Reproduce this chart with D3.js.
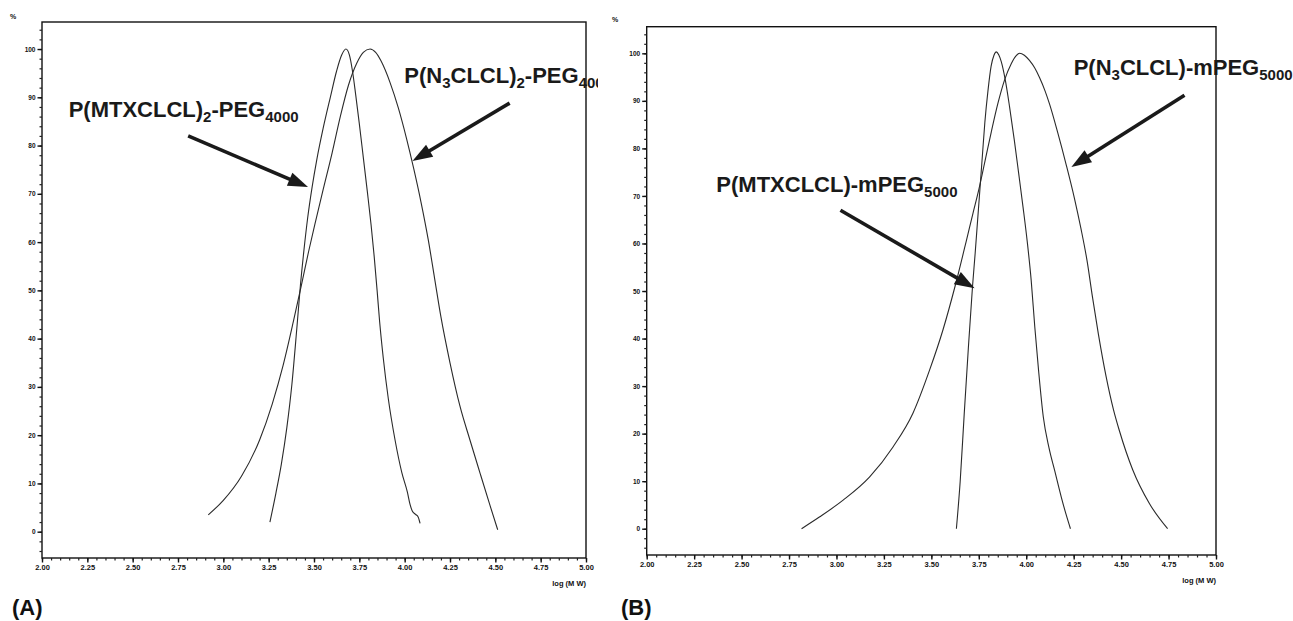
<!DOCTYPE html>
<html><head><meta charset="utf-8">
<script src="https://cdn.jsdelivr.net/npm/d3@7"></script>
<style>
body{margin:0;background:#fff}
svg{display:block}
text{font-family:"Liberation Sans",Arial,Helvetica,sans-serif}
</style>
</head><body>
<svg id="chart" width="1293" height="621"></svg>
<script>
// ---------- data ----------
const xTickValues = [2.00, 2.25, 2.50, 2.75, 3.00, 3.25, 3.50, 3.75, 4.00, 4.25, 4.50, 4.75, 5.00];
const yTickValues = [0, 10, 20, 30, 40, 50, 60, 70, 80, 90, 100];
const xTickLabels = ["2.00","2.25","2.50","2.75","3.00","3.25","3.50","3.75","4.00","4.25","4.50","4.75","5.00"];
const xAxisTitle = "log (M W)";
const yAxisTitle = "%";

// Panel A: P(MTXCLCL)2-PEG4000 (narrow) and P(N3CLCL)2-PEG4000 (wide)
const mtxA = [[3.257,2],[3.29,8],[3.32,14],[3.35,21.5],[3.378,30.5],[3.405,42],[3.425,51],[3.445,58.5],[3.465,65],[3.49,71.5],[3.515,77],[3.55,83.5],[3.59,90],[3.625,95.5],[3.652,98.7],[3.676,100],[3.695,98.8],[3.712,95.5],[3.73,90.5],[3.75,84.5],[3.772,77.5],[3.794,70.5],[3.815,63.5],[3.832,57],[3.848,50],[3.862,43.5],[3.882,36],[3.91,27.5],[3.947,19],[3.984,12.3],[4.015,8.2],[4.03,5.6],[4.042,4.3],[4.06,3.6],[4.075,3],[4.085,1.7]];
const n3A = [[2.917,3.5],[3.0,6.5],[3.1,11.5],[3.2,19],[3.27,26.5],[3.33,34.5],[3.386,43.5],[3.43,51],[3.47,58],[3.51,64.5],[3.55,70.8],[3.6,78.5],[3.645,86],[3.69,92.5],[3.735,97],[3.772,99.3],[3.809,100],[3.84,99.3],[3.87,97.5],[3.92,93],[3.965,87.8],[4.01,81.5],[4.05,75.2],[4.09,68.3],[4.13,60.5],[4.165,52.5],[4.2,44.5],[4.25,35],[4.305,26],[4.36,19],[4.416,12.1],[4.471,5.4],[4.513,0.4]];

// Panel B: P(MTXCLCL)-mPEG5000 (narrow) and P(N3CLCL)-mPEG5000 (wide)
const mtxB = [[3.632,0],[3.652,10],[3.673,24],[3.695,38],[3.717,51],[3.731,58],[3.744,65],[3.757,72],[3.769,78.5],[3.782,85.5],[3.798,92],[3.815,97.3],[3.83,99.6],[3.842,100.3],[3.855,99.7],[3.868,98.3],[3.89,94.3],[3.912,88.8],[3.937,81.8],[3.96,74.8],[3.983,67.7],[4.005,60.5],[4.026,52.3],[4.045,42.5],[4.065,33.3],[4.09,23.5],[4.12,17],[4.15,12.2],[4.185,6.6],[4.21,3],[4.233,0]];
const n3B = [[2.816,0],[2.912,2.5],[3.035,6],[3.175,10.9],[3.298,17.2],[3.403,24.3],[3.491,33.4],[3.561,41.8],[3.625,51],[3.684,60.5],[3.719,66.3],[3.751,71.5],[3.781,77],[3.816,83.5],[3.851,89.5],[3.886,94.4],[3.921,97.8],[3.945,99.4],[3.965,100],[3.99,99.6],[4.017,98.5],[4.045,96.9],[4.07,94.9],[4.1,92],[4.123,89.3],[4.166,83.3],[4.211,76.5],[4.254,69.5],[4.289,63],[4.32,56.5],[4.35,48.5],[4.38,41],[4.421,32],[4.46,25],[4.491,20.6],[4.561,12.4],[4.649,5.3],[4.745,0]];

// Annotations (data coordinates)
const labelsA = [
  {parts:[["P(MTXCLCL)",0],["2",1],["-PEG",0],["4000",1]], at:[2.147,84.9]},
  {parts:[["P(N",0],["3",1],["CLCL)",0],["2",1],["-PEG",0],["4000",1]], at:[3.998,91.9]}
];
const arrowsA = [
  {from:[2.806,82.0], to:[3.467,71.4]},
  {from:[4.579,88.8], to:[4.043,76.8]}
];
const labelsB = [
  {parts:[["P(MTXCLCL)-mPEG",0],["5000",1]], at:[2.367,69.8]},
  {parts:[["P(N",0],["3",1],["CLCL)-mPEG",0],["5000",1]], at:[4.25,94.4]}
];
const arrowsB = [
  {from:[3.021,67.0], to:[3.728,50.6]},
  {from:[4.834,91.2], to:[4.238,76.1]}
];
const panelNames = ["(A)","(B)"];

// ---------- layout ----------
const svg = d3.select("#chart");
const panels = [
  {left:42, right:586, top:22, bottom:558, yDom:[-5.45,105.6], series:[mtxA,n3A], labels:labelsA, arrows:arrowsA, name:panelNames[0], nameX:12, pctX:13, pctY:19, clipR:598},
  {left:646.7, right:1216, top:26.7, bottom:555, yDom:[-5.53,105.6], series:[mtxB,n3B], labels:labelsB, arrows:arrowsB, name:panelNames[1], nameX:621, pctX:615, pctY:22, clipR:1293}
];

const defs = svg.append("defs");

panels.forEach((p, i) => {
  const x = d3.scaleLinear().domain([2,5]).range([p.left, p.right]);
  const y = d3.scaleLinear().domain(p.yDom).range([p.bottom, p.top]);

  defs.append("clipPath").attr("id","clip"+i)
    .append("rect").attr("x",0).attr("y",0).attr("width",p.clipR).attr("height",621);

  const g = svg.append("g").attr("clip-path","url(#clip"+i+")");

  // frame
  g.append("rect").attr("x",p.left).attr("y",p.top)
    .attr("width",p.right-p.left).attr("height",p.bottom-p.top)
    .attr("fill","none").attr("stroke","#111").attr("stroke-width",1.4);

  // minor ticks
  const xMinor = d3.range(2, 5.0001, 0.05);
  g.append("g").attr("transform",`translate(0,${p.bottom})`)
    .call(d3.axisBottom(x).tickValues(xMinor).tickSize(2.5).tickFormat(""))
    .call(a=>{a.select(".domain").remove(); a.selectAll("line").attr("stroke","#222").attr("stroke-width",1.2);});
  const yMinor = d3.range(-4, 105, 2);
  g.append("g").attr("transform",`translate(${p.left},0)`)
    .call(d3.axisLeft(y).tickValues(yMinor).tickSize(2.5).tickFormat(""))
    .call(a=>{a.select(".domain").remove(); a.selectAll("line").attr("stroke","#222").attr("stroke-width",1.2);});

  // major axes
  g.append("g").attr("transform",`translate(0,${p.bottom})`)
    .call(d3.axisBottom(x).tickValues(xTickValues).tickSize(4.5).tickPadding(2.5)
      .tickFormat((d,k)=>xTickLabels[k]))
    .call(a=>{
      a.select(".domain").remove();
      a.selectAll("line").attr("stroke","#111").attr("stroke-width",1.4);
      a.selectAll("text").attr("font-size",7.5).attr("font-weight","bold").attr("fill","#111")
        .attr("font-family","'Liberation Sans',Arial,sans-serif");
    });
  g.append("g").attr("transform",`translate(${p.left},0)`)
    .call(d3.axisLeft(y).tickValues(yTickValues).tickSize(4.5).tickPadding(2))
    .call(a=>{
      a.select(".domain").remove();
      a.selectAll("line").attr("stroke","#111").attr("stroke-width",1.4);
      a.selectAll("text").attr("font-size",6.5).attr("font-weight","bold").attr("fill","#111")
        .attr("font-family","'Liberation Sans',Arial,sans-serif");
    });

  // axis titles
  g.append("text").attr("x",p.right).attr("y",p.bottom+28).attr("text-anchor","end")
    .attr("font-size",7.5).attr("font-weight","bold").attr("fill","#111").text(xAxisTitle);
  g.append("text").attr("x",p.pctX).attr("y",p.pctY).attr("text-anchor","middle")
    .attr("font-size",7).attr("font-weight","bold").attr("fill","#111").text(yAxisTitle);

  // curves
  const line = d3.line().x(d=>x(d[0])).y(d=>y(d[1])).curve(d3.curveMonotoneX);
  p.series.forEach(s=>{
    g.append("path").datum(s).attr("d",line)
      .attr("fill","none").attr("stroke","#2a2a2a").attr("stroke-width",1.1);
  });

  // arrows
  p.arrows.forEach(a=>{
    const x1=x(a.from[0]), y1=y(a.from[1]), x2=x(a.to[0]), y2=y(a.to[1]);
    const ang=Math.atan2(y2-y1,x2-x1), L=20, W=7;
    const bx=x2-L*Math.cos(ang), by=y2-L*Math.sin(ang);
    g.append("line").attr("x1",x1).attr("y1",y1).attr("x2",bx+3*Math.cos(ang)).attr("y2",by+3*Math.sin(ang))
      .attr("stroke","#1a1a1a").attr("stroke-width",3.6);
    const px=-Math.sin(ang), py=Math.cos(ang);
    g.append("path").attr("d",`M${x2},${y2}L${bx+W*px},${by+W*py}L${bx-W*px},${by-W*py}Z`).attr("fill","#1a1a1a");
  });

  // labels
  p.labels.forEach(l=>{
    const t=g.append("text").attr("x",x(l.at[0])).attr("y",y(l.at[1]))
      .attr("font-size",22).attr("font-weight","bold").attr("fill","#1a1a1a");
    let prevSub=false;
    l.parts.forEach(([s,sub])=>{
      const dy = sub===prevSub?0:(sub?5:-5);
      t.append("tspan").attr("dy",dy).attr("font-size",sub?15:22).text(s);
      prevSub=!!sub;
    });
  });

  // panel name
  svg.append("text").attr("x",p.nameX).attr("y",615).attr("font-size",22).attr("font-weight","bold")
    .attr("fill","#111").text(p.name);
});
</script>
</body></html>
